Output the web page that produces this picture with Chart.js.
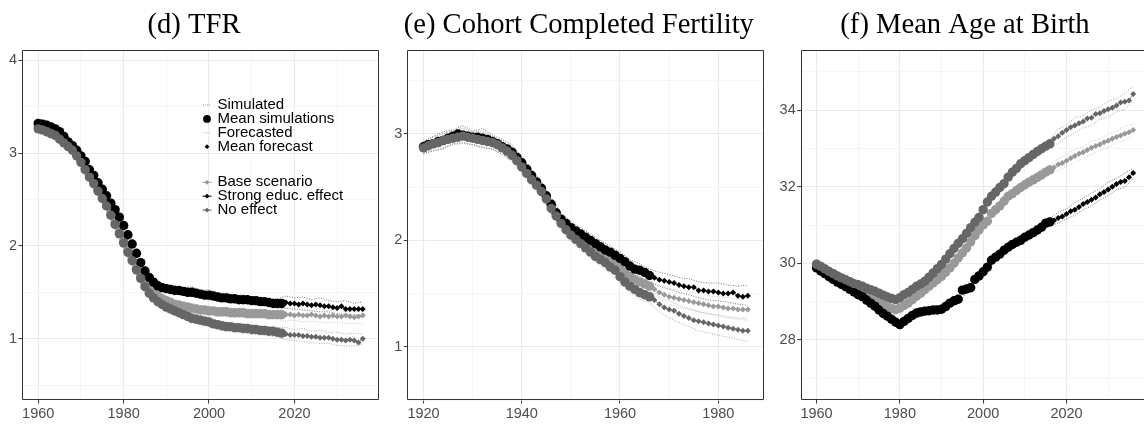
<!DOCTYPE html>
<html>
<head>
<meta charset="utf-8">
<script src="https://cdn.jsdelivr.net/npm/chart.js@4.4.1/dist/chart.umd.min.js"></script>
<style>
  html, body { margin: 0; padding: 0; background: #fff; overflow: hidden; }
  #wrap { position: relative; width: 1144px; height: 424px; }
  canvas { position: absolute; top: 0; }
</style>
</head>
<body>
<div id="wrap">
  <canvas id="tfr" width="381" height="424" style="left:0px"></canvas>
  <canvas id="ccf" width="384" height="424" style="left:381px"></canvas>
  <canvas id="mab" width="379" height="424" style="left:765px"></canvas>
</div>
<script>
// ---- (d) TFR, 1960-2036, observed to 2017 then forecast ----
const tfrBase = [
  3.28, 3.27, 3.25, 3.23, 3.21, 3.17, 3.13, 3.09, 3.05, 2.99,
  2.92, 2.84, 2.76, 2.69, 2.61, 2.53, 2.45, 2.35, 2.25, 2.15,
  2.05, 1.95, 1.86, 1.76, 1.67, 1.59, 1.55, 1.50, 1.46, 1.43,
  1.41, 1.39, 1.37, 1.36, 1.35, 1.34, 1.33, 1.32, 1.31, 1.31,
  1.30, 1.30, 1.29, 1.29, 1.29, 1.28, 1.28, 1.28, 1.28, 1.27,
  1.27, 1.27, 1.27, 1.27, 1.26, 1.26, 1.26, 1.26, 1.26, 1.26,
  1.25, 1.26, 1.25, 1.25, 1.26, 1.25, 1.24, 1.25, 1.24, 1.25,
  1.24, 1.24, 1.25, 1.24, 1.23, 1.24, 1.25];
const tfrStrong = [
  3.32, 3.31, 3.30, 3.28, 3.26, 3.23, 3.18, 3.12, 3.08, 3.03,
  2.97, 2.91, 2.82, 2.76, 2.68, 2.61, 2.54, 2.46, 2.39, 2.31,
  2.22, 2.12, 2.02, 1.92, 1.82, 1.73, 1.66, 1.61, 1.57, 1.55,
  1.54, 1.53, 1.52, 1.52, 1.51, 1.50, 1.50, 1.49, 1.48, 1.47,
  1.47, 1.46, 1.45, 1.44, 1.44, 1.43, 1.43, 1.42, 1.42, 1.42,
  1.41, 1.41, 1.40, 1.40, 1.39, 1.38, 1.38, 1.38, 1.39, 1.38,
  1.38, 1.37, 1.38, 1.37, 1.36, 1.37, 1.36, 1.35, 1.35, 1.34,
  1.33, 1.35, 1.32, 1.32, 1.32, 1.32, 1.32];
const tfrNone = [
  3.26, 3.25, 3.23, 3.21, 3.19, 3.15, 3.11, 3.07, 3.03, 2.97,
  2.90, 2.82, 2.74, 2.67, 2.59, 2.51, 2.43, 2.33, 2.23, 2.13,
  2.03, 1.93, 1.84, 1.74, 1.65, 1.56, 1.49, 1.44, 1.40, 1.37,
  1.34, 1.32, 1.30, 1.28, 1.26, 1.24, 1.22, 1.21, 1.20, 1.19,
  1.18, 1.16, 1.15, 1.14, 1.13, 1.13, 1.12, 1.12, 1.11, 1.11,
  1.10, 1.10, 1.09, 1.09, 1.08, 1.08, 1.07, 1.06, 1.05, 1.04,
  1.04, 1.04, 1.03, 1.03, 1.02, 1.02, 1.01, 1.01, 1.01, 1.00,
  0.99, 0.99, 0.98, 0.99, 0.98, 0.96, 1.00];
// single simulation runs, every second year
const tfrSimBaseHi = [3.33, 3.30, 3.26, 3.18, 3.10, 2.97, 2.82, 2.66, 2.50, 2.30, 2.10, 1.91, 1.72, 1.60, 1.51, 1.46, 1.42, 1.40, 1.38, 1.36, 1.35, 1.34, 1.34, 1.33, 1.33, 1.32, 1.32, 1.31, 1.31, 1.33, 1.31, 1.33, 1.30, 1.32, 1.30, 1.31, 1.29, 1.30, 1.29];
const tfrSimBaseLo = [3.23, 3.20, 3.16, 3.08, 3.00, 2.87, 2.71, 2.56, 2.40, 2.20, 2.00, 1.81, 1.62, 1.50, 1.41, 1.36, 1.32, 1.30, 1.28, 1.26, 1.25, 1.24, 1.24, 1.23, 1.23, 1.22, 1.22, 1.21, 1.21, 1.19, 1.20, 1.18, 1.19, 1.18, 1.17, 1.18, 1.16, 1.17, 1.16];
const tfrSimStrongHi = [3.36, 3.35, 3.30, 3.23, 3.13, 3.02, 2.88, 2.73, 2.60, 2.44, 2.28, 2.07, 1.87, 1.71, 1.61, 1.58, 1.57, 1.55, 1.56, 1.52, 1.53, 1.49, 1.49, 1.47, 1.47, 1.45, 1.45, 1.43, 1.43, 1.46, 1.44, 1.45, 1.42, 1.44, 1.41, 1.40, 1.41, 1.38, 1.40];
const tfrSimStrongLo = [3.28, 3.26, 3.21, 3.14, 3.04, 2.92, 2.78, 2.63, 2.49, 2.34, 2.17, 1.97, 1.77, 1.62, 1.53, 1.50, 1.48, 1.47, 1.46, 1.44, 1.42, 1.41, 1.40, 1.39, 1.38, 1.37, 1.36, 1.35, 1.33, 1.33, 1.32, 1.31, 1.30, 1.29, 1.29, 1.27, 1.26, 1.26, 1.25];
const tfrSimNoneHi = [3.31, 3.29, 3.24, 3.16, 3.08, 2.95, 2.79, 2.64, 2.48, 2.28, 2.08, 1.89, 1.70, 1.54, 1.45, 1.39, 1.35, 1.31, 1.27, 1.25, 1.23, 1.20, 1.18, 1.17, 1.16, 1.15, 1.14, 1.13, 1.12, 1.12, 1.10, 1.11, 1.08, 1.09, 1.07, 1.07, 1.05, 1.06, 1.05];
const tfrSimNoneLo = [3.21, 3.18, 3.14, 3.06, 2.98, 2.85, 2.69, 2.54, 2.38, 2.18, 1.98, 1.79, 1.60, 1.44, 1.35, 1.29, 1.25, 1.21, 1.17, 1.15, 1.13, 1.10, 1.08, 1.07, 1.06, 1.05, 1.04, 1.03, 1.02, 0.99, 0.98, 0.97, 0.96, 0.95, 0.95, 0.93, 0.92, 0.92, 0.94];

// ---- (e) Cohort completed fertility, cohorts 1920-1986, observed to 1966 ----
const ccfBase = [
  2.88, 2.90, 2.91, 2.93, 2.94, 2.96, 2.97, 2.99, 2.99, 2.98,
  2.97, 2.96, 2.95, 2.94, 2.93, 2.91, 2.88, 2.85, 2.82, 2.77,
  2.71, 2.65, 2.59, 2.54, 2.48, 2.41, 2.32, 2.25, 2.18, 2.13,
  2.09, 2.05, 2.02, 1.98, 1.95, 1.91, 1.88, 1.85, 1.81, 1.78,
  1.74, 1.70, 1.66, 1.63, 1.61, 1.59, 1.57, 1.54, 1.51, 1.49,
  1.47, 1.46, 1.45, 1.44, 1.43, 1.42, 1.41, 1.40, 1.39, 1.38,
  1.38, 1.37, 1.36, 1.36, 1.35, 1.35, 1.35];
const ccfStrong = [
  2.88, 2.90, 2.91, 2.93, 2.94, 2.96, 2.98, 3.00, 2.99, 2.98,
  2.97, 2.97, 2.96, 2.95, 2.93, 2.91, 2.88, 2.86, 2.83, 2.78,
  2.73, 2.67, 2.61, 2.55, 2.49, 2.42, 2.34, 2.26, 2.20, 2.16,
  2.12, 2.09, 2.06, 2.03, 2.00, 1.97, 1.94, 1.91, 1.89, 1.86,
  1.83, 1.80, 1.76, 1.73, 1.72, 1.70, 1.67, 1.65, 1.63, 1.62,
  1.61, 1.60, 1.58, 1.57, 1.56, 1.56, 1.53, 1.53, 1.52, 1.52,
  1.51, 1.50, 1.50, 1.51, 1.48, 1.47, 1.48];
const ccfNone = [
  2.87, 2.89, 2.91, 2.92, 2.94, 2.95, 2.96, 2.97, 2.98, 2.97,
  2.96, 2.95, 2.94, 2.93, 2.92, 2.90, 2.87, 2.84, 2.80, 2.75,
  2.69, 2.63, 2.57, 2.52, 2.46, 2.39, 2.30, 2.23, 2.16, 2.10,
  2.05, 2.01, 1.97, 1.93, 1.89, 1.85, 1.82, 1.79, 1.75, 1.72,
  1.66, 1.61, 1.57, 1.54, 1.51, 1.49, 1.47, 1.44, 1.40, 1.37,
  1.35, 1.34, 1.31, 1.29, 1.27, 1.25, 1.24, 1.23, 1.22, 1.21,
  1.20, 1.19, 1.18, 1.17, 1.16, 1.15, 1.15];
const ccfSimBaseHi = [2.94, 2.97, 3.01, 3.03, 3.06, 3.02, 3.03, 2.99, 2.94, 2.88, 2.77, 2.65, 2.54, 2.38, 2.24, 2.15, 2.08, 2.01, 1.93, 1.87, 1.80, 1.72, 1.67, 1.63, 1.58, 1.55, 1.53, 1.52, 1.50, 1.48, 1.47, 1.46, 1.45, 1.46];
const ccfSimBaseLo = [2.82, 2.85, 2.87, 2.91, 2.92, 2.90, 2.87, 2.86, 2.81, 2.75, 2.65, 2.53, 2.41, 2.26, 2.12, 2.03, 1.96, 1.89, 1.81, 1.75, 1.68, 1.60, 1.55, 1.51, 1.45, 1.40, 1.37, 1.35, 1.33, 1.31, 1.29, 1.27, 1.26, 1.25];
const ccfSimStrongHi = [2.93, 2.98, 3.02, 3.04, 3.08, 3.03, 3.05, 2.99, 2.95, 2.90, 2.79, 2.67, 2.55, 2.40, 2.26, 2.18, 2.12, 2.06, 2.00, 1.95, 1.89, 1.82, 1.78, 1.73, 1.70, 1.68, 1.65, 1.64, 1.61, 1.60, 1.60, 1.58, 1.57, 1.58];
const ccfSimStrongLo = [2.82, 2.84, 2.86, 2.91, 2.92, 2.90, 2.88, 2.86, 2.81, 2.76, 2.67, 2.55, 2.43, 2.28, 2.14, 2.06, 2.00, 1.94, 1.88, 1.83, 1.77, 1.70, 1.66, 1.61, 1.57, 1.54, 1.51, 1.49, 1.46, 1.44, 1.43, 1.42, 1.40, 1.39];
const ccfSimNoneHi = [2.92, 2.97, 3.00, 3.03, 3.05, 3.02, 3.02, 2.98, 2.93, 2.86, 2.75, 2.63, 2.52, 2.36, 2.22, 2.11, 2.03, 1.95, 1.88, 1.81, 1.72, 1.63, 1.57, 1.53, 1.47, 1.43, 1.39, 1.36, 1.33, 1.31, 1.30, 1.28, 1.27, 1.27];
const ccfSimNoneLo = [2.81, 2.85, 2.87, 2.90, 2.91, 2.90, 2.87, 2.86, 2.81, 2.74, 2.63, 2.51, 2.40, 2.24, 2.10, 1.99, 1.91, 1.83, 1.76, 1.69, 1.60, 1.51, 1.45, 1.41, 1.33, 1.27, 1.23, 1.19, 1.15, 1.13, 1.11, 1.09, 1.07, 1.05];

// ---- (f) Mean age at birth, 1960-2036, observed to 2016 ----
const mabBase = [
  29.98, 29.92, 29.85, 29.78, 29.72, 29.65, 29.58, 29.52, 29.45, 29.38,
  29.33, 29.27, 29.20, 29.13, 29.06, 28.99, 28.93, 28.87, 28.82, 28.79,
  28.83, 28.90, 28.96, 29.05, 29.14, 29.22, 29.31, 29.40, 29.49, 29.57,
  29.66, 29.77, 29.88, 30.00, 30.14, 30.27, 30.40, 30.56, 30.72, 30.87,
  31.00, 31.10, 31.30, 31.40, 31.50, 31.62, 31.75, 31.82, 31.90, 31.98,
  32.05, 32.12, 32.18, 32.24, 32.31, 32.38, 32.44, 32.50, 32.58, 32.62,
  32.68, 32.74, 32.80, 32.86, 32.90, 32.96, 33.02, 33.06, 33.10, 33.16,
  33.20, 33.25, 33.30, 33.34, 33.38, 33.42, 33.48];
const mabStrong = [
  29.88, 29.80, 29.73, 29.65, 29.58, 29.51, 29.45, 29.39, 29.32, 29.25,
  29.18, 29.13, 29.04, 28.96, 28.88, 28.78, 28.69, 28.62, 28.54, 28.46,
  28.40, 28.48, 28.56, 28.64, 28.70, 28.73, 28.75, 28.76, 28.78, 28.78,
  28.80, 28.87, 28.96, 29.02, 29.06, 29.30, 29.33, 29.36, 29.58, 29.67,
  29.78, 29.90, 30.08, 30.16, 30.24, 30.34, 30.42, 30.49, 30.55, 30.60,
  30.68, 30.74, 30.80, 30.87, 30.94, 31.05, 31.08, 31.12, 31.18, 31.22,
  31.29, 31.36, 31.40, 31.47, 31.55, 31.60, 31.66, 31.72, 31.80, 31.86,
  31.93, 32.00, 32.07, 32.12, 32.15, 32.25, 32.36];
const mabNone = [
  29.97, 29.92, 29.85, 29.79, 29.73, 29.67, 29.62, 29.57, 29.52, 29.47,
  29.44, 29.40, 29.35, 29.31, 29.27, 29.22, 29.17, 29.12, 29.08, 29.05,
  29.10, 29.18, 29.24, 29.32, 29.40, 29.46, 29.53, 29.64, 29.75, 29.86,
  29.97, 30.11, 30.25, 30.39, 30.52, 30.64, 30.78, 30.93, 31.07, 31.20,
  31.40, 31.60, 31.75, 31.86, 31.98, 32.08, 32.25, 32.38, 32.48, 32.60,
  32.68, 32.76, 32.84, 32.92, 32.99, 33.06, 33.12, 33.25, 33.32, 33.41,
  33.48, 33.55, 33.60, 33.66, 33.70, 33.78, 33.80, 33.90, 33.92, 33.98,
  34.02, 34.06, 34.12, 34.20, 34.22, 34.25, 34.42];
const mabSimBaseHi = [30.08, 29.95, 29.82, 29.68, 29.55, 29.43, 29.30, 29.16, 29.03, 28.92, 28.93, 29.06, 29.24, 29.41, 29.59, 29.76, 29.98, 30.24, 30.50, 30.82, 31.10, 31.40, 31.60, 31.85, 32.00, 32.15, 32.28, 32.41, 32.56, 32.74, 32.82, 32.98, 33.04, 33.20, 33.24, 33.38, 33.44, 33.58, 33.62];
const mabSimBaseLo = [29.88, 29.75, 29.62, 29.48, 29.35, 29.23, 29.10, 28.96, 28.83, 28.72, 28.73, 28.86, 29.04, 29.21, 29.39, 29.56, 29.78, 30.04, 30.30, 30.62, 30.90, 31.20, 31.40, 31.65, 31.80, 31.95, 32.08, 32.21, 32.32, 32.42, 32.54, 32.62, 32.76, 32.84, 32.96, 33.02, 33.16, 33.20, 33.34];
const mabSimStrongHi = [29.98, 29.82, 29.68, 29.54, 29.42, 29.27, 29.14, 28.97, 28.79, 28.63, 28.50, 28.66, 28.79, 28.85, 28.87, 28.90, 29.06, 29.16, 29.42, 29.68, 29.88, 30.18, 30.34, 30.52, 30.65, 30.78, 30.90, 31.04, 31.18, 31.33, 31.42, 31.58, 31.70, 31.84, 31.95, 32.12, 32.22, 32.35, 32.48];
const mabSimStrongLo = [29.78, 29.63, 29.48, 29.35, 29.22, 29.08, 28.94, 28.78, 28.59, 28.44, 28.30, 28.46, 28.60, 28.65, 28.68, 28.70, 28.86, 28.96, 29.23, 29.48, 29.68, 29.98, 30.14, 30.32, 30.45, 30.58, 30.70, 30.84, 30.98, 31.05, 31.16, 31.25, 31.40, 31.50, 31.66, 31.76, 31.92, 31.98, 32.22];
const mabSimNoneHi = [30.07, 29.95, 29.83, 29.72, 29.62, 29.54, 29.45, 29.37, 29.27, 29.18, 29.20, 29.34, 29.50, 29.63, 29.85, 30.07, 30.35, 30.62, 30.88, 31.17, 31.50, 31.85, 32.08, 32.35, 32.58, 32.78, 32.94, 33.09, 33.24, 33.50, 33.62, 33.80, 33.86, 34.00, 34.08, 34.24, 34.30, 34.44, 34.62];
const mabSimNoneLo = [29.87, 29.75, 29.63, 29.52, 29.42, 29.34, 29.25, 29.17, 29.07, 28.98, 29.00, 29.14, 29.30, 29.43, 29.65, 29.87, 30.15, 30.42, 30.68, 30.97, 31.30, 31.65, 31.88, 32.15, 32.38, 32.58, 32.74, 32.89, 33.00, 33.14, 33.30, 33.40, 33.54, 33.60, 33.76, 33.82, 33.96, 34.02, 34.24];

// ticks (grid at every tick, label only where listed)
const tfrXTicks = [1960, 1970, 1980, 1990, 2000, 2010, 2020, 2030];
const tfrXLabels = [1960, 1980, 2000, 2020];
const tfrYTicks = [0.5, 1, 1.5, 2, 2.5, 3, 3.5, 4];
const tfrYLabels = [1, 2, 3, 4];
const ccfXTicks = [1920, 1930, 1940, 1950, 1960, 1970, 1980];
const ccfXLabels = [1920, 1940, 1960, 1980];
const ccfYTicks = [0.5, 1, 1.5, 2, 2.5, 3, 3.5];
const ccfYLabels = [1, 2, 3];
const mabXTicks = [1960, 1970, 1980, 1990, 2000, 2010, 2020, 2030];
const mabXLabels = [1960, 1980, 2000, 2020];
const mabYTicks = [27, 28, 29, 30, 31, 32, 33, 34, 35];
const mabYLabels = [28, 30, 32, 34];

const legendTop = ['Simulated', 'Mean simulations', 'Forecasted', 'Mean forecast'];
const legendScenarios = ['Base scenario', 'Strong educ. effect', 'No effect'];

const colors = { base: '#999999', strong: '#000000', none: '#666666' };
const simColors = { base: '#b3b3b3', strong: '#3a3a3a', none: '#858585' };
const sansFont = '"Liberation Sans", Arial, sans-serif';
const serifFont = '"Liberation Serif", "Times New Roman", serif';

function yearRange(first, last, step) {
    const out = [];
    for (let y = first; y <= last; y += step) out.push(y);
    return out;
}

const toPoints = (xs, ys) => xs.map((x, i) => ({ x: x, y: ys[i] }));

function scenarioSets(p, key, values, order) {
    const all = toPoints(p.years, values);
    return [
        {
            data: all.filter(d => d.x <= p.histEnd),
            showLine: false,
            pointRadius: 4.7,
            pointBackgroundColor: colors[key],
            pointBorderWidth: 0,
            order: order
        },
        {
            data: all.filter(d => d.x > p.histEnd),
            borderColor: colors[key],
            borderWidth: 0.8,
            pointStyle: 'rectRot',
            pointRadius: 3,
            pointBackgroundColor: colors[key],
            pointBorderWidth: 0,
            order: order
        }
    ];
}

function simSet(p, key, values) {
    return {
        data: toPoints(p.simYears, values),
        borderColor: simColors[key],
        borderWidth: 0.7,
        borderDash: [1, 1.5],
        pointRadius: 0,
        order: 10
    };
}

// panel box, drawn over the data like theme_bw
const framePlugin = {
    id: 'frame',
    afterDatasetsDraw(chart, args, opts) {
        const { ctx, chartArea: a } = chart;
        const l = Math.round(a.left) + 0.5, t = Math.round(a.top) + 0.5;
        const r = Math.round(a.right) - 0.5, b = Math.round(a.bottom) - 0.5;
        const end = opts.openRight ? a.right + 2 : r;
        ctx.save();
        ctx.strokeStyle = '#333333';
        ctx.lineWidth = 1;
        ctx.beginPath();
        ctx.moveTo(end, t);
        ctx.lineTo(l, t);
        ctx.lineTo(l, b);
        ctx.lineTo(end, b);
        if (!opts.openRight) ctx.lineTo(r, t);
        ctx.stroke();
        ctx.restore();
    }
};

// title centred where the original puts it
const titlePlugin = {
    id: 'panelTitle',
    afterDraw(chart, args, opts) {
        const ctx = chart.ctx;
        ctx.save();
        ctx.font = '28.6px ' + serifFont;
        ctx.fillStyle = '#000';
        ctx.textAlign = 'center';
        ctx.textBaseline = 'middle';
        ctx.fillText(opts.text, opts.x, 25.5);
        ctx.restore();
    }
};

function drawDiamond(ctx, x, y, r) {
    ctx.beginPath();
    ctx.moveTo(x, y - r);
    ctx.lineTo(x + r, y);
    ctx.lineTo(x, y + r);
    ctx.lineTo(x - r, y);
    ctx.closePath();
    ctx.fill();
}

function drawDotted(ctx, x, y, color) {
    ctx.save();
    ctx.strokeStyle = color;
    ctx.lineWidth = 1;
    ctx.setLineDash([1, 1]);
    ctx.beginPath();
    ctx.moveTo(x - 4, y);
    ctx.lineTo(x + 4, y);
    ctx.stroke();
    ctx.restore();
}

// legend inside the TFR panel
const legendPlugin = {
    id: 'insideLegend',
    afterDraw(chart) {
        const ctx = chart.ctx;
        const sx = 207, tx = 217.5;
        ctx.save();
        ctx.font = '15px ' + sansFont;
        ctx.textBaseline = 'middle';
        ctx.textAlign = 'left';
        legendTop.forEach((label, i) => {
            const y = 105 + i * 13.9;
            ctx.fillStyle = '#000';
            if (i === 0) drawDotted(ctx, sx, y, '#9a9a9a');
            if (i === 1) { ctx.beginPath(); ctx.arc(sx, y, 3.9, 0, Math.PI * 2); ctx.fill(); }
            if (i === 2) drawDotted(ctx, sx, y, '#c4c4c4');
            if (i === 3) drawDiamond(ctx, sx, y, 2.4);
            ctx.fillStyle = '#000';
            ctx.fillText(label, tx, y);
        });
        const keys = ['base', 'strong', 'none'];
        legendScenarios.forEach((label, i) => {
            const y = 182.3 + i * 13.9;
            const c = colors[keys[i]];
            ctx.strokeStyle = c;
            ctx.fillStyle = c;
            ctx.lineWidth = 1;
            ctx.beginPath();
            ctx.moveTo(sx - 4.5, y);
            ctx.lineTo(sx + 4.5, y);
            ctx.stroke();
            drawDiamond(ctx, sx, y, 2.4);
            ctx.fillStyle = '#000';
            ctx.fillText(label, tx, y);
        });
        ctx.restore();
    }
};

const panels = [
    {
        id: 'tfr', title: '(d) TFR', titleX: 194, years: yearRange(1960, 2036, 1), histEnd: 2017,
        simYears: yearRange(1960, 2036, 2),
        base: tfrBase, strong: tfrStrong, none: tfrNone,
        sims: { base: [tfrSimBaseHi, tfrSimBaseLo], strong: [tfrSimStrongHi, tfrSimStrongLo], none: [tfrSimNoneHi, tfrSimNoneLo] },
        xMin: 1956.2, xMax: 2039.8, xTicks: tfrXTicks, xLabels: tfrXLabels,
        yMin: 0.34, yMax: 4.11, yTicks: tfrYTicks, yLabels: tfrYLabels,
        padRight: 2, yWidth: 22, legend: true, openRight: false
    },
    {
        id: 'ccf', title: '(e) Cohort Completed Fertility', titleX: 197.8, years: yearRange(1920, 1986, 1), histEnd: 1966,
        simYears: yearRange(1920, 1986, 2),
        base: ccfBase, strong: ccfStrong, none: ccfNone,
        sims: { base: [ccfSimBaseHi, ccfSimBaseLo], strong: [ccfSimStrongHi, ccfSimStrongLo], none: [ccfSimNoneHi, ccfSimNoneLo] },
        xMin: 1916.7, xMax: 1989.3, xTicks: ccfXTicks, xLabels: ccfXLabels,
        yMin: 0.5, yMax: 3.79, yTicks: ccfYTicks, yLabels: ccfYLabels,
        padRight: 1, yWidth: 26.3, legend: false, openRight: false
    },
    {
        id: 'mab', title: '(f) Mean Age at Birth', titleX: 200, years: yearRange(1960, 2036, 1), histEnd: 2016,
        simYears: yearRange(1960, 2036, 2),
        base: mabBase, strong: mabStrong, none: mabNone,
        sims: { base: [mabSimBaseHi, mabSimBaseLo], strong: [mabSimStrongHi, mabSimStrongLo], none: [mabSimNoneHi, mabSimNoneLo] },
        xMin: 1956.2, xMax: 2038.6, xTicks: mabXTicks, xLabels: mabXLabels,
        yMin: 26.43, yMax: 35.57, yTicks: mabYTicks, yLabels: mabYLabels,
        padRight: 0, yWidth: 35.7, legend: false, openRight: true
    }
];

function axis(p, dir) {
    const ticks = dir === 'x' ? p.xTicks : p.yTicks;
    const labels = dir === 'x' ? p.xLabels : p.yLabels;
    const isMajor = v => labels.includes(v);
    return {
        type: 'linear',
        position: dir === 'x' ? 'bottom' : 'left',
        min: dir === 'x' ? p.xMin : p.yMin,
        max: dir === 'x' ? p.xMax : p.yMax,
        afterBuildTicks: s => { s.ticks = ticks.map(v => ({ value: v })); },
        afterFit: s => {
            if (dir === 'x') s.height = 24; else s.width = p.yWidth;
            s.paddingLeft = 0; s.paddingRight = 0;
            s.paddingTop = 0; s.paddingBottom = 0;
        },
        border: { display: false },
        grid: {
            color: ctx => isMajor(ctx.tick.value) ? '#ebebeb' : '#f0f0f0',
            lineWidth: ctx => isMajor(ctx.tick.value) ? 1.1 : 0.7,
            tickColor: ctx => isMajor(ctx.tick.value) ? '#333333' : 'rgba(0,0,0,0)',
            tickLength: 3.5,
            tickWidth: 1
        },
        ticks: {
            autoSkip: false,
            maxRotation: 0,
            padding: 1.5,
            color: '#4d4d4d',
            font: { family: sansFont, size: 14.5 },
            callback: v => isMajor(v) ? String(v) : ''
        }
    };
}

panels.forEach(p => {
    const datasets = [];
    // no-effect on top, then strong, then base, simulations underneath
    datasets.push(...scenarioSets(p, 'none', p.none, 0));
    datasets.push(...scenarioSets(p, 'strong', p.strong, 1));
    datasets.push(...scenarioSets(p, 'base', p.base, 2));
    ['base', 'strong', 'none'].forEach(k => {
        p.sims[k].forEach(vals => datasets.push(simSet(p, k, vals)));
    });

    new Chart(document.getElementById(p.id), {
        type: 'line',
        data: { datasets: datasets },
        options: {
            responsive: false,
            animation: false,
            events: [],
            // fixed plot box: no automatic room for point radius
            layout: { autoPadding: false, padding: { left: 0, right: p.padRight, top: 50, bottom: 0 } },
            scales: { x: axis(p, 'x'), y: axis(p, 'y') },
            plugins: {
                legend: { display: false },
                tooltip: { enabled: false },
                title: { display: false },
                frame: { openRight: p.openRight },
                panelTitle: { text: p.title, x: p.titleX }
            }
        },
        plugins: p.legend ? [framePlugin, titlePlugin, legendPlugin] : [framePlugin, titlePlugin]
    });
});
</script>
</body>
</html>
